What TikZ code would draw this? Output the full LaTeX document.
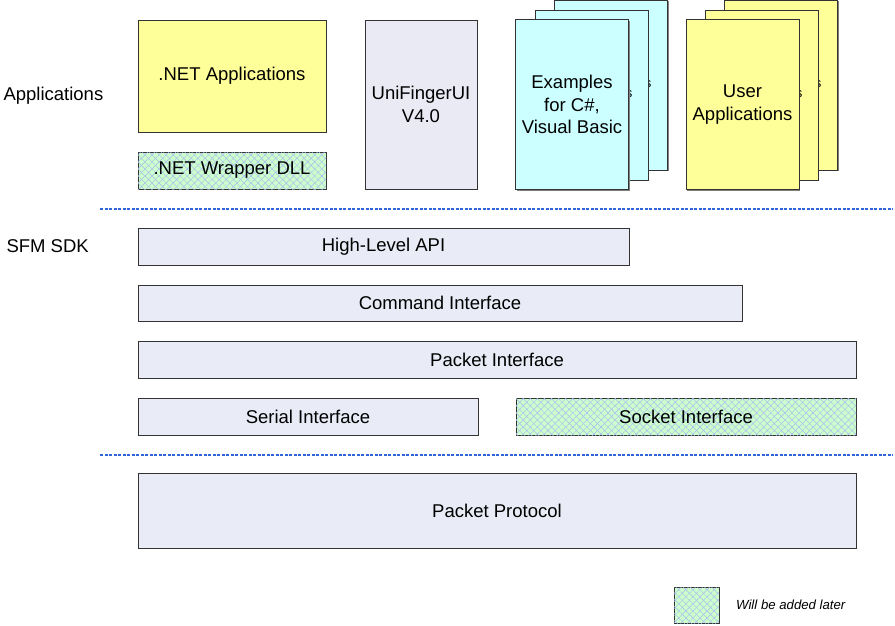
\documentclass[tikz,border=0pt]{standalone}
\usepackage{fontspec}
\setmainfont{Liberation Sans}
\usetikzlibrary{patterns.meta,shadows}
\definecolor{appyellow}{HTML}{FFFF99}
\definecolor{excyan}{HTML}{CCFFFF}
\definecolor{sdkgray}{HTML}{E9ECF6}
\definecolor{uigray}{HTML}{EAEAF4}
\definecolor{hatchgreen}{HTML}{CCFFCC}
\definecolor{hatchblue}{HTML}{AAB8F2}
\definecolor{dashblue}{HTML}{2F66DA}
\newcommand{\boxfont}{\fontsize{18.5}{22.5}\selectfont}

\begin{document}
\begin{tikzpicture}[x=1pt,y=-1pt,
  layer/.style={draw=black!80,line width=0.9pt,inner sep=0pt,align=center,font=\boxfont,
    drop shadow={shadow xshift=1.3pt,shadow yshift=-1.3pt,fill=black!50,opacity=1}},
  later/.style={fill=hatchgreen,
    postaction={pattern={Lines[angle=45,distance=5pt,line width=.45pt]},pattern color=hatchblue},
    postaction={pattern={Lines[angle=-45,distance=5pt,line width=.45pt]},pattern color=hatchblue}},
  card/.style={layer,minimum width=113,minimum height=170},
  frag/.style={font=\fontsize{13}{15}\selectfont,anchor=east,inner sep=0pt},
  sep/.style={dashblue,line width=1.1pt,dash pattern=on 3pt off 1.5pt}]
\useasboundingbox (0,0) rectangle (895,625);
\begin{scope}
% applications
\node[anchor=west,font=\boxfont] (applbl) at (0,96) {Applications};
\node[layer,fill=appyellow,minimum width=188,minimum height=112] (netapp) at (232,76) {.NET Applications};
\node[layer,later,minimum width=188,minimum height=37] (wrapper) at (232,170.5) {.NET Wrapper DLL};
\node[layer,fill=uigray,minimum width=112,minimum height=169] (unifinger) at (421,104.5) {UniFingerUI\\V4.0};
\node[card,fill=excyan] (ex3) at (611,85) {};
\node[frag] (ex3txt) at (651.5,84) {s};
\node[card,fill=excyan] (ex2) at (591.5,95) {};
\node[frag] (ex2txt) at (632.5,94) {s};
\node[card,fill=excyan] (ex1) at (572,104.5) {Examples\\for C\#,\\Visual Basic};
\node[card,fill=appyellow] (usr3) at (781,85) {};
\node[frag] (usr3txt) at (821.5,84) {s};
\node[card,fill=appyellow] (usr2) at (761.5,95) {};
\node[frag] (usr2txt) at (802.5,94) {s};
\node[card,fill=appyellow] (usr1) at (742.5,104.5) {User\\Applications};
% sdk
\node[anchor=west,font=\boxfont] (sdklbl) at (3,246) {SFM SDK};
\node[layer,fill=sdkgray,minimum width=491,minimum height=37] (hlapi) at (383.5,246.5) {High-Level API};
\node[layer,fill=sdkgray,minimum width=604,minimum height=36] (cmdif) at (440,303) {Command Interface};
\node[layer,fill=sdkgray,minimum width=718,minimum height=37] (pktif) at (497,359.5) {Packet Interface};
\node[layer,fill=sdkgray,minimum width=340,minimum height=37] (serialif) at (308,416.5) {Serial Interface};
\node[layer,later,minimum width=340,minimum height=37] (socketif) at (686,416.5) {Socket Interface};
% protocol
\node[layer,fill=sdkgray,minimum width=718,minimum height=75] (protocol) at (497,510.5) {Packet Protocol};
% legend
\node[layer,later,minimum width=45,minimum height=36] (legend) at (696.5,605) {};
\node[anchor=west,inner sep=0pt,font=\fontsize{13.2}{15}\selectfont\itshape] (legendtxt) at (736,605) {Will be added later};
\end{scope}
\coordinate (sepa) at (100,209); \coordinate (sepb) at (893,209);
\coordinate (sepc) at (100,455); \coordinate (sepd) at (893,455);
\draw[sep] (sepa)--(sepb);
\draw[sep] (sepc)--(sepd);
\end{tikzpicture}
\end{document}
